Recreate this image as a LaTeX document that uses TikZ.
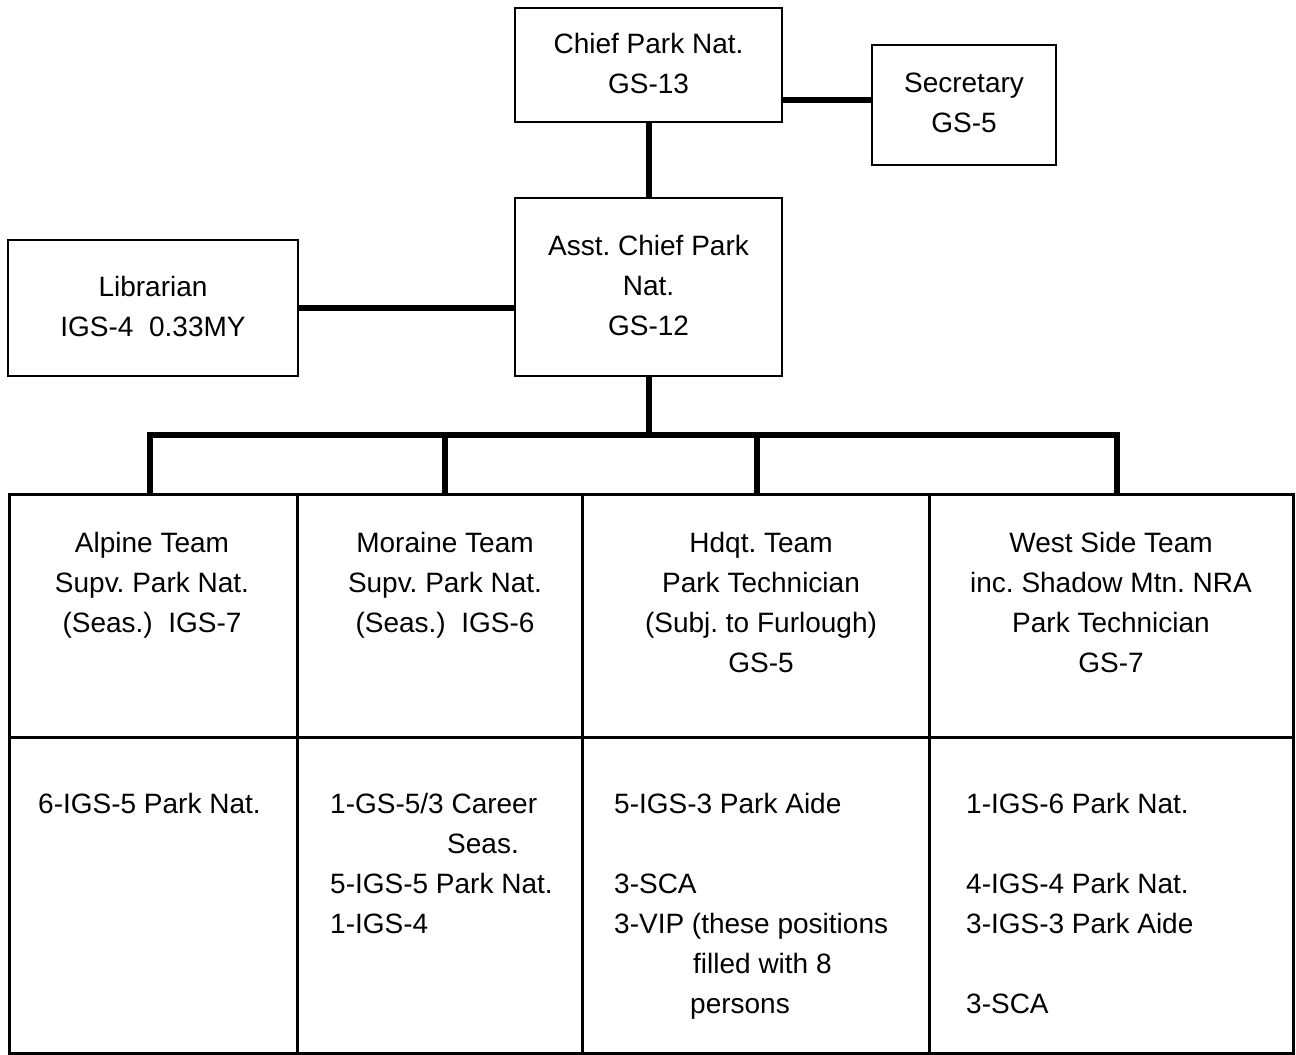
\documentclass[tikz,border=0pt]{standalone}
\usepackage{fontspec}
\setmainfont{Liberation Sans}
\begin{document}
\frenchspacing
\begin{tikzpicture}[x=1pt,y=-1pt,
  every node/.style={font=\fontsize{28}{40}\selectfont\frenchspacing},
  orgbox/.style={draw,line width=2.5pt,inner sep=0pt,align=center},
  cell/.style={draw,line width=2.5pt,inner sep=0pt,anchor=north west},
  htext/.style={inner sep=0pt,anchor=north,align=center},
  btext/.style={inner sep=0pt,anchor=north west,align=left},
  link/.style={line width=6pt}]
\useasboundingbox (0,0) rectangle (1296,1055);
% boxes
\node[orgbox,minimum width=267pt,minimum height=114pt,text depth=4pt] (chief) at (648.5,65) {Chief Park Nat.\\GS-13};
\node[orgbox,minimum width=184pt,minimum height=120pt,text depth=4pt] (sec) at (964,105) {Secretary\\GS-5};
\node[orgbox,minimum width=267pt,minimum height=178pt,text depth=4pt] (asst) at (648.5,287) {Asst. Chief Park\\Nat.\\GS-12};
\node[orgbox,minimum width=290pt,minimum height=136pt,text depth=4pt] (lib) at (153,308) {Librarian\\IGS-4\ \ 0.33MY};
% table cells
\node[cell,minimum width=288pt,minimum height=243pt] (h1) at (8,493) {};
\node[cell,minimum width=285pt,minimum height=243pt] (h2) at (296,493) {};
\node[cell,minimum width=347pt,minimum height=243pt] (h3) at (581,493) {};
\node[cell,minimum width=364pt,minimum height=243pt] (h4) at (928,493) {};
\node[cell,minimum width=288pt,minimum height=316pt] (b1) at (8,736) {};
\node[cell,minimum width=285pt,minimum height=316pt] (b2) at (296,736) {};
\node[cell,minimum width=347pt,minimum height=316pt] (b3) at (581,736) {};
\node[cell,minimum width=364pt,minimum height=316pt] (b4) at (928,736) {};
% header texts
\node[htext] (t1) at (152,532) {Alpine Team\\Supv. Park Nat.\\(Seas.)\ \ IGS-7};
\node[htext] (t2) at (445,532) {Moraine Team\\Supv. Park Nat.\\(Seas.)\ \ IGS-6};
\node[htext] (t3) at (761,532) {Hdqt. Team\\Park Technician\\(Subj. to Furlough)\\GS-5};
\node[htext] (t4) at (1111,532) {West Side Team\\inc. Shadow Mtn. NRA\\Park Technician\\GS-7};
% body texts
\node[btext] (u1) at (38,793) {6-IGS-5 Park Nat.};
\node[btext] (u2) at (330,793) {1-GS-5/3 Career\\\hspace*{117pt}Seas.\\5-IGS-5 Park Nat.\\1-IGS-4};
\node[btext] (u3) at (614,793) {5-IGS-3 Park Aide\\[40pt]3-SCA\\3-VIP (these positions\\\hspace*{79pt}filled with 8\\\hspace*{76pt}persons};
\node[btext] (u4) at (966,793) {1-IGS-6 Park Nat.\\[40pt]4-IGS-4 Park Nat.\\3-IGS-3 Park Aide\\[40pt]3-SCA};
% connectors
\coordinate (cs) at (782,100);
\draw[link] (cs) -- (cs -| sec.west);
\draw[link] (chief.south) -- (asst.north);
\draw[link] (lib.east) -- (lib.east -| asst.west);
\coordinate (bus) at (648.5,435);
\coordinate (d1) at (150,435);
\coordinate (d2) at (445,435);
\coordinate (d3) at (757,435);
\coordinate (d4) at (1117,435);
\draw[link] (asst.south) -- (bus);
\draw[link,line join=miter] (d1 |- h1.north) -- (d1) -- (d4) -- (d4 |- h4.north);
\draw[link] (d2) -- (d2 |- h2.north);
\draw[link] (d3) -- (d3 |- h3.north);
\end{tikzpicture}
\end{document}
